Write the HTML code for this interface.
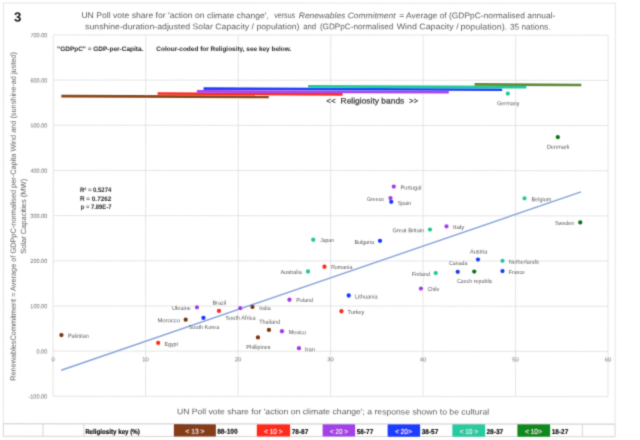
<!DOCTYPE html>
<html><head><meta charset="utf-8"><title>Chart 3</title>
<style>
html,body{margin:0;padding:0;background:#fff;}
body{width:640px;height:440px;overflow:hidden;font-family:"Liberation Sans",sans-serif;}
svg{display:block;font-family:"Liberation Sans",sans-serif;}
svg text{font-family:"Liberation Sans",sans-serif;}
</style></head><body>
<svg width="640" height="440" viewBox="0 0 640 440">
<defs><filter id="soft" x="0" y="0" width="640" height="440" filterUnits="userSpaceOnUse"><feConvolveMatrix order="3" kernelMatrix="0.0256 0.1088 0.0256 0.1088 0.4624 0.1088 0.0256 0.1088 0.0256" edgeMode="duplicate" preserveAlpha="false"/></filter></defs>
<rect x="0" y="0" width="640" height="440" fill="#ffffff"/>
<g filter="url(#soft)"><g transform="rotate(0.03 320 220)">

<rect x="3.4" y="3.1" width="611.8" height="420.7" fill="none" stroke="#e6e6e6" stroke-width="1"/>
<g stroke="#d6d6d6" stroke-width="1" fill="none">
<line x1="3.4" y1="424" x2="615.2" y2="424"/>
<line x1="3.4" y1="436.5" x2="615.2" y2="436.5"/>
<line x1="3.4" y1="424" x2="3.4" y2="436.5"/>
<line x1="43.1" y1="424" x2="43.1" y2="436.5"/>
<line x1="84" y1="424" x2="84" y2="436.5"/>
<line x1="582.5" y1="424" x2="582.5" y2="436.5"/>
<line x1="615.2" y1="424" x2="615.2" y2="436.5"/>
</g>
<g stroke="#dedede" stroke-width="0.8" fill="none">
<line x1="53.2" y1="396.42" x2="608.08" y2="396.42"/>
<line x1="53.2" y1="351.25" x2="608.08" y2="351.25"/>
<line x1="53.2" y1="306.08" x2="608.08" y2="306.08"/>
<line x1="53.2" y1="260.91" x2="608.08" y2="260.91"/>
<line x1="53.2" y1="215.74" x2="608.08" y2="215.74"/>
<line x1="53.2" y1="170.57" x2="608.08" y2="170.57"/>
<line x1="53.2" y1="125.40" x2="608.08" y2="125.40"/>
<line x1="53.2" y1="80.23" x2="608.08" y2="80.23"/>
<line x1="53.2" y1="35.06" x2="608.08" y2="35.06"/>
<line x1="53.20" y1="35.06" x2="53.20" y2="396.42"/>
<line x1="145.68" y1="35.06" x2="145.68" y2="396.42"/>
<line x1="238.16" y1="35.06" x2="238.16" y2="396.42"/>
<line x1="330.64" y1="35.06" x2="330.64" y2="396.42"/>
<line x1="423.12" y1="35.06" x2="423.12" y2="396.42"/>
<line x1="515.60" y1="35.06" x2="515.60" y2="396.42"/>
<line x1="608.08" y1="35.06" x2="608.08" y2="396.42"/>
</g>
<g font-size="6" fill="#6c6c6c" text-anchor="end">
<text transform="translate(47.3,398.72) scale(0.925,1)">-100.00</text>
<text transform="translate(47.3,353.55) scale(0.925,1)">0.00</text>
<text transform="translate(47.3,308.38) scale(0.925,1)">100.00</text>
<text transform="translate(47.3,263.21) scale(0.925,1)">200.00</text>
<text transform="translate(47.3,218.04) scale(0.925,1)">300.00</text>
<text transform="translate(47.3,172.87) scale(0.925,1)">400.00</text>
<text transform="translate(47.3,127.70) scale(0.925,1)">500.00</text>
<text transform="translate(47.3,82.53) scale(0.925,1)">600.00</text>
<text transform="translate(47.3,37.36) scale(0.925,1)">700.00</text>
</g>
<g font-size="5.8" fill="#6c6c6c" text-anchor="middle">
<text x="53.10" y="361.35">0</text>
<text x="145.58" y="361.35">10</text>
<text x="238.06" y="361.35">20</text>
<text x="330.54" y="361.35">30</text>
<text x="423.02" y="361.35">40</text>
<text x="515.50" y="361.35">50</text>
<text x="607.98" y="361.35">60</text>
</g>
<line x1="61.3" y1="370.4" x2="581" y2="191.75" stroke="#86a1dc" stroke-width="1.4"/>
<line x1="61.25" y1="96.3" x2="268.75" y2="96.95" stroke="#8A451A" stroke-width="2.7"/>
<line x1="157.5" y1="93.6" x2="342.5" y2="94.4" stroke="#F92C1E" stroke-width="2.7"/>
<line x1="196.8" y1="91.4" x2="448.75" y2="92.2" stroke="#A844EA" stroke-width="2.7"/>
<line x1="203.5" y1="88.6" x2="502.1" y2="89.65" stroke="#1E3EFA" stroke-width="2.7"/>
<line x1="308" y1="86.4" x2="526.25" y2="87.0" stroke="#22C79A" stroke-width="2.7"/>
<line x1="474.5" y1="84.35" x2="581.25" y2="84.85" stroke="#5E8A38" stroke-width="2.7"/>
<circle cx="61.5" cy="335.25" r="2.15" fill="#7A3410"/>
<circle cx="158.25" cy="343.0" r="2.15" fill="#FF2A1A"/>
<circle cx="185.75" cy="319.75" r="2.15" fill="#7A3410"/>
<circle cx="197" cy="307.4" r="2.15" fill="#A23BEA"/>
<circle cx="203.5" cy="318.0" r="2.15" fill="#1638FF"/>
<circle cx="219" cy="311" r="2.15" fill="#FF2A1A"/>
<circle cx="240.25" cy="308.25" r="2.15" fill="#A23BEA"/>
<circle cx="252.5" cy="307.0" r="2.15" fill="#7A3410"/>
<circle cx="269" cy="330.0" r="2.15" fill="#7A3410"/>
<circle cx="258" cy="337.5" r="2.15" fill="#7A3410"/>
<circle cx="282" cy="331.25" r="2.15" fill="#A23BEA"/>
<circle cx="289.5" cy="299.75" r="2.15" fill="#A23BEA"/>
<circle cx="299" cy="348.25" r="2.15" fill="#A23BEA"/>
<circle cx="393.75" cy="186.5" r="2.15" fill="#A23BEA"/>
<circle cx="390.5" cy="198.0" r="2.15" fill="#A23BEA"/>
<circle cx="391.25" cy="201.75" r="2.15" fill="#1638FF"/>
<circle cx="313.25" cy="239.75" r="2.15" fill="#22C79A"/>
<circle cx="380" cy="240.75" r="2.15" fill="#1638FF"/>
<circle cx="324.5" cy="266.75" r="2.15" fill="#FF2A1A"/>
<circle cx="308" cy="271.5" r="2.15" fill="#22C79A"/>
<circle cx="430" cy="229.5" r="2.15" fill="#22C79A"/>
<circle cx="446.5" cy="226.25" r="2.15" fill="#A23BEA"/>
<circle cx="478" cy="259.5" r="2.15" fill="#1638FF"/>
<circle cx="457.75" cy="271.75" r="2.15" fill="#1638FF"/>
<circle cx="474.25" cy="271.5" r="2.15" fill="#0E7312"/>
<circle cx="435.75" cy="273" r="2.15" fill="#22C79A"/>
<circle cx="421" cy="288.5" r="2.15" fill="#A23BEA"/>
<circle cx="502.5" cy="260.75" r="2.15" fill="#22C79A"/>
<circle cx="502.5" cy="271" r="2.15" fill="#1638FF"/>
<circle cx="348.75" cy="295.5" r="2.15" fill="#1638FF"/>
<circle cx="341.5" cy="311.25" r="2.15" fill="#FF2A1A"/>
<circle cx="507.75" cy="93.5" r="2.15" fill="#22C79A"/>
<circle cx="557.75" cy="137" r="2.15" fill="#0E7312"/>
<circle cx="524.5" cy="198.25" r="2.15" fill="#22C79A"/>
<circle cx="580.25" cy="222.25" r="2.15" fill="#0E7312"/>
<g font-size="5.8" fill="#555555">
<text x="68" y="337.90" textLength="20.75" lengthAdjust="spacingAndGlyphs">Pakistan</text>
<text x="164.5" y="345.95" textLength="13.50" lengthAdjust="spacingAndGlyphs">Egypt</text>
<text x="157.5" y="322.45" textLength="22.50" lengthAdjust="spacingAndGlyphs">Morocco</text>
<text x="172" y="310.20" textLength="18.75" lengthAdjust="spacingAndGlyphs">Ukraine</text>
<text x="188.75" y="329.10" textLength="30.50" lengthAdjust="spacingAndGlyphs">South Korea</text>
<text x="212.5" y="304.90" textLength="13.75" lengthAdjust="spacingAndGlyphs">Brazil</text>
<text x="225.5" y="319.90" textLength="30.25" lengthAdjust="spacingAndGlyphs">South Africa</text>
<text x="259.25" y="309.55" textLength="11.50" lengthAdjust="spacingAndGlyphs">India</text>
<text x="259.25" y="323.75" textLength="21.00" lengthAdjust="spacingAndGlyphs">Thailand</text>
<text x="246.25" y="348.90" textLength="24.25" lengthAdjust="spacingAndGlyphs">Phillipines</text>
<text x="288.75" y="334.15" textLength="17.50" lengthAdjust="spacingAndGlyphs">Mexico</text>
<text x="296.25" y="302.50" textLength="16.75" lengthAdjust="spacingAndGlyphs">Poland</text>
<text x="305" y="351.15" textLength="10.00" lengthAdjust="spacingAndGlyphs">Iran</text>
<text x="400.5" y="189.40" textLength="21.00" lengthAdjust="spacingAndGlyphs">Portugal</text>
<text x="367" y="200.85" textLength="17.25" lengthAdjust="spacingAndGlyphs">Greece</text>
<text x="397.75" y="204.65" textLength="13.25" lengthAdjust="spacingAndGlyphs">Spain</text>
<text x="320.25" y="242.40" textLength="13.75" lengthAdjust="spacingAndGlyphs">Japan</text>
<text x="354.5" y="243.65" textLength="19.50" lengthAdjust="spacingAndGlyphs">Bulgaria</text>
<text x="331" y="269.25" textLength="21.50" lengthAdjust="spacingAndGlyphs">Romania</text>
<text x="280.5" y="274.00" textLength="21.25" lengthAdjust="spacingAndGlyphs">Australia</text>
<text x="392.5" y="232.15" textLength="31.75" lengthAdjust="spacingAndGlyphs">Great Britain</text>
<text x="453" y="228.90" textLength="11.25" lengthAdjust="spacingAndGlyphs">Italy</text>
<text x="470" y="253.40" textLength="17.50" lengthAdjust="spacingAndGlyphs">Austria</text>
<text x="449" y="265.40" textLength="18.50" lengthAdjust="spacingAndGlyphs">Canada</text>
<text x="457" y="282.65" textLength="35.50" lengthAdjust="spacingAndGlyphs">Czech republic</text>
<text x="412" y="275.90" textLength="18.00" lengthAdjust="spacingAndGlyphs">Finland</text>
<text x="427.5" y="291.15" textLength="12.00" lengthAdjust="spacingAndGlyphs">Chile</text>
<text x="508.75" y="263.65" textLength="30.00" lengthAdjust="spacingAndGlyphs">Netherlands</text>
<text x="508.75" y="273.90" textLength="16.25" lengthAdjust="spacingAndGlyphs">France</text>
<text x="355" y="298.40" textLength="22.50" lengthAdjust="spacingAndGlyphs">Lithuania</text>
<text x="347.5" y="313.90" textLength="17.00" lengthAdjust="spacingAndGlyphs">Turkey</text>
<text x="497" y="105.15" textLength="22.50" lengthAdjust="spacingAndGlyphs">Germany</text>
<text x="547" y="148.65" textLength="22.50" lengthAdjust="spacingAndGlyphs">Denmark</text>
<text x="531.5" y="201.15" textLength="19.75" lengthAdjust="spacingAndGlyphs">Belgium</text>
<text x="555" y="225.15" textLength="19.25" lengthAdjust="spacingAndGlyphs">Sweden</text>
</g>
<g font-weight="bold" fill="#262626" font-size="6.5">
<text x="57" y="51.1" textLength="86.25" lengthAdjust="spacingAndGlyphs">"GDPpC" = GDP-per-Capita.</text>
<text x="156.25" y="51.1" textLength="135" lengthAdjust="spacingAndGlyphs">Colour-coded for Religiosity, see key below.</text>
<text x="80" y="191.8" textLength="31.25" lengthAdjust="spacingAndGlyphs">R² = 0.5274</text>
<text x="80" y="201.0" textLength="31.25" lengthAdjust="spacingAndGlyphs">R = 0.7262</text>
<text x="80.8" y="209.6" textLength="30.6" lengthAdjust="spacingAndGlyphs">p = 7.89E-7</text>
</g>
<g font-size="8" fill="#3a3a3a" stroke="#3a3a3a" stroke-width="0.25">
<text x="326.25" y="103.5" textLength="9.25" lengthAdjust="spacingAndGlyphs">&lt;&lt;</text>
<text x="340.5" y="103.5" textLength="63.75" lengthAdjust="spacingAndGlyphs">Religiosity bands</text>
<text x="409.25" y="103.5" textLength="8.75" lengthAdjust="spacingAndGlyphs">&gt;&gt;</text>
</g>
<text x="13.8" y="21.6" font-size="13.2" font-weight="bold" fill="#1a1a1a">3</text>
<g font-size="8.2" fill="#5c5c5c">
<text x="81.3" y="18.2" textLength="187.50" lengthAdjust="spacingAndGlyphs">UN Poll vote share for 'action on climate change',</text>
<text x="274.2" y="18.2" textLength="20.80" lengthAdjust="spacingAndGlyphs">versus</text>
<text x="298.7" y="18.2" textLength="96.80" lengthAdjust="spacingAndGlyphs" font-style="italic">Renewables Commitment</text>
<text x="399.2" y="18.2" textLength="156.00" lengthAdjust="spacingAndGlyphs">= Average of (GDPpC-normalised annual-</text>
<text x="85" y="29.3" textLength="214.40" lengthAdjust="spacingAndGlyphs">sunshine-duration-adjusted Solar Capacity / population)</text>
<text x="303.1" y="29.3" textLength="12.90" lengthAdjust="spacingAndGlyphs">and</text>
<text x="319.8" y="29.3" textLength="73.50" lengthAdjust="spacingAndGlyphs">(GDPpC-normalised</text>
<text x="396.6" y="29.3" textLength="61.90" lengthAdjust="spacingAndGlyphs">Wind Capacity /</text>
<text x="460.3" y="29.3" textLength="46.70" lengthAdjust="spacingAndGlyphs">population).</text>
<text x="509.9" y="29.3" textLength="40.50" lengthAdjust="spacingAndGlyphs">35 nations.</text>
<text x="177" y="414.35" font-size="8.1" textLength="312.25" lengthAdjust="spacingAndGlyphs">UN Poll vote share for 'action on climate change'; a response shown to be cultural</text>
</g>
<g font-size="7.5" fill="#606060">
<text transform="translate(15.7,381) rotate(-90)" textLength="328.75" lengthAdjust="spacingAndGlyphs">RenewablesCommitment = Average of GDPpC-normalised per-Capita Wind and (sunshine-ad justed)</text>
<text transform="translate(26.0,254) rotate(-90)" textLength="75" lengthAdjust="spacingAndGlyphs">Solar Capacities (MW)</text>
</g>
<rect x="174" y="424.2" width="42.00" height="12.4" fill="#843C17"/>
<text x="185.6" y="433.9" font-size="7" fill="#f6e6e4" stroke="#f6e6e4" stroke-width="0.12" textLength="18.80" lengthAdjust="spacingAndGlyphs" xml:space="preserve">&lt; 13 &gt;</text>
<text x="217.25" y="433.9" font-size="7" font-weight="bold" fill="#000" stroke="#000" stroke-width="0.15" textLength="20.50" lengthAdjust="spacingAndGlyphs">88-100</text>
<rect x="256.9" y="424.2" width="33.35" height="12.4" fill="#FF2A1A"/>
<text x="264.4" y="433.9" font-size="7" fill="#f6e6e4" stroke="#f6e6e4" stroke-width="0.12" textLength="18.10" lengthAdjust="spacingAndGlyphs" xml:space="preserve">&lt; 10 &gt;</text>
<text x="291.9" y="433.9" font-size="7" font-weight="bold" fill="#000" stroke="#000" stroke-width="0.15" textLength="16.50" lengthAdjust="spacingAndGlyphs">78-87</text>
<rect x="322.75" y="424.2" width="32.50" height="12.4" fill="#A340E8"/>
<text x="330" y="433.9" font-size="7" fill="#f6e6e4" stroke="#f6e6e4" stroke-width="0.12" textLength="18.10" lengthAdjust="spacingAndGlyphs" xml:space="preserve">&lt; 20 &gt;</text>
<text x="356.9" y="433.9" font-size="7" font-weight="bold" fill="#000" stroke="#000" stroke-width="0.15" textLength="16.50" lengthAdjust="spacingAndGlyphs">58-77</text>
<rect x="387.75" y="424.2" width="32.50" height="12.4" fill="#1A3CFF"/>
<text x="395.25" y="433.9" font-size="7" fill="#f6e6e4" stroke="#f6e6e4" stroke-width="0.12" textLength="16.65" lengthAdjust="spacingAndGlyphs" xml:space="preserve">&lt; 20&gt;</text>
<text x="421.9" y="433.9" font-size="7" font-weight="bold" fill="#000" stroke="#000" stroke-width="0.15" textLength="16.50" lengthAdjust="spacingAndGlyphs">38-57</text>
<rect x="452.5" y="424.2" width="32.75" height="12.4" fill="#27CBA0"/>
<text x="459.75" y="433.9" font-size="7" fill="#f6e6e4" stroke="#f6e6e4" stroke-width="0.12" textLength="18.35" lengthAdjust="spacingAndGlyphs" xml:space="preserve">&lt; 10 &gt;</text>
<text x="486.5" y="433.9" font-size="7" font-weight="bold" fill="#000" stroke="#000" stroke-width="0.15" textLength="16.90" lengthAdjust="spacingAndGlyphs">28-37</text>
<rect x="517.5" y="424.2" width="32.75" height="12.4" fill="#118A1C"/>
<text x="525.25" y="433.9" font-size="7" fill="#f6e6e4" stroke="#f6e6e4" stroke-width="0.12" textLength="16.65" lengthAdjust="spacingAndGlyphs" xml:space="preserve">&lt; 10&gt;</text>
<text x="551.9" y="433.9" font-size="7" font-weight="bold" fill="#000" stroke="#000" stroke-width="0.15" textLength="16.50" lengthAdjust="spacingAndGlyphs">18-27</text>
<text x="85.25" y="433.9" font-size="7" font-weight="bold" fill="#000" stroke="#000" stroke-width="0.15" textLength="54.75" lengthAdjust="spacingAndGlyphs">Religiosity key (%)</text>
</g></g></svg></body></html>
